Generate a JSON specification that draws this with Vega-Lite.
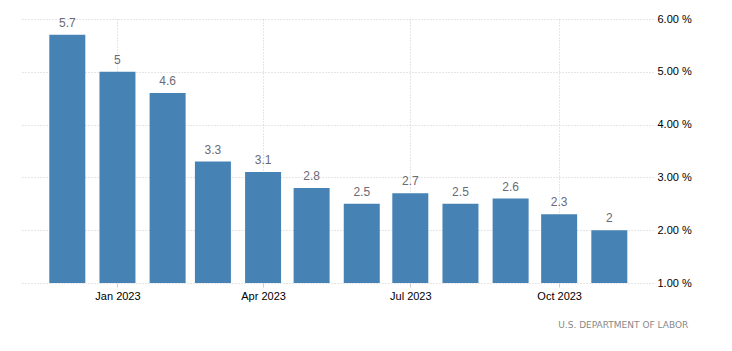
{
  "$schema": "https://vega.github.io/schema/vega-lite/v6.json",
  "width": 631,
  "height": 264,
  "autosize": {"type": "none"},
  "padding": {"left": 22, "top": 19, "right": 79, "bottom": 68},
  "background": "white",
  "config": {"view": {"stroke": null}, "font": "Liberation Sans"},
  "title": {
    "text": "U.S. DEPARTMENT OF LABOR",
    "orient": "bottom",
    "anchor": "end",
    "fontSize": 9,
    "fontWeight": "normal",
    "color": "#888888",
    "font": "DejaVu Sans",
    "offset": 20,
    "dx": -3
  },
  "data": {
    "values": [
      {"date": "2022-12-01", "value": 5.7},
      {"date": "2023-01-01", "value": 5.0},
      {"date": "2023-02-01", "value": 4.6},
      {"date": "2023-03-01", "value": 3.3},
      {"date": "2023-04-01", "value": 3.1},
      {"date": "2023-05-01", "value": 2.8},
      {"date": "2023-06-01", "value": 2.5},
      {"date": "2023-07-01", "value": 2.7},
      {"date": "2023-08-01", "value": 2.5},
      {"date": "2023-09-01", "value": 2.6},
      {"date": "2023-10-01", "value": 2.3},
      {"date": "2023-11-01", "value": 2.0}
    ]
  },
  "encoding": {
    "x": {
      "field": "date",
      "type": "temporal",
      "scale": {
        "type": "utc",
        "padding": 0,
        "domain": [
          {"year": 2022, "month": 11, "date": 3, "utc": true},
          {"year": 2023, "month": 11, "date": 28, "utc": true}
        ]
      },
      "axis": {
        "title": null,
        "values": [
          {"year": 2023, "month": 1, "date": 1, "utc": true},
          {"year": 2023, "month": 4, "date": 1, "utc": true},
          {"year": 2023, "month": 7, "date": 1, "utc": true},
          {"year": 2023, "month": 10, "date": 1, "utc": true}
        ],
        "labelExpr": "utcFormat(datum.value, '%b %Y')",
        "domain": false,
        "tickColor": "#cccccc",
        "tickSize": 4,
        "grid": true,
        "gridColor": "#cccccc",
        "gridDash": [1, 2],
        "labelFontSize": 11,
        "labelColor": "#000000",
        "labelPadding": 3
      }
    },
    "y": {
      "field": "value",
      "type": "quantitative",
      "scale": {"domain": [1, 6], "zero": false, "nice": false},
      "axis": {
        "title": null,
        "orient": "right",
        "values": [1, 2, 3, 4, 5, 6],
        "labelExpr": "format(datum.value, '.2f') + ' %'",
        "domain": false,
        "ticks": false,
        "grid": true,
        "gridColor": "#cccccc",
        "gridDash": [1, 2],
        "labelFontSize": 11,
        "labelColor": "#000000",
        "labelPadding": 4
      }
    }
  },
  "layer": [
    {
      "mark": {"type": "bar", "size": 36, "color": "#4682b4", "clip": true},
      "encoding": {"y2": {"datum": 1}}
    },
    {
      "mark": {"type": "text", "dy": -8, "baseline": "alphabetic", "fontSize": 12, "color": "#6a6a78"},
      "encoding": {"text": {"field": "value", "type": "quantitative", "format": ".2~f"}}
    }
  ]
}
